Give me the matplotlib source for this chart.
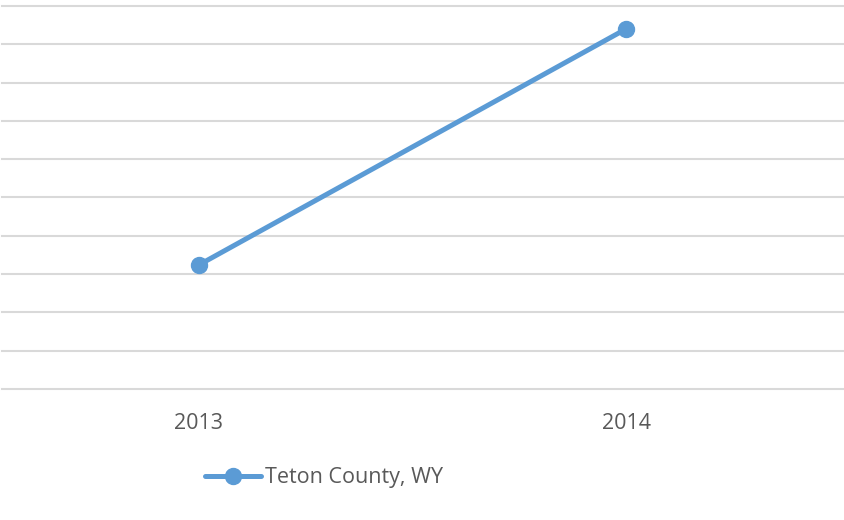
import matplotlib
matplotlib.use("Agg")
import matplotlib.pyplot as plt

# values (no y labels shown, units arbitrary; grid step = 1)
years = ["2013", "2014"]
teton = [3.24, 9.40]
series_name = "Teton County, WY"

blue = "#5B9BD5"
grey_text = "#595959"

plt.rcParams['font.family'] = ['Open Sans', 'DejaVu Sans']

fig = plt.figure(figsize=(8.45, 5.2), dpi=100)
ax = fig.add_axes([2 / 845, 1 - 389 / 520, 841 / 845, (389 - 6) / 520])

x = list(range(len(years)))
ax.plot(x, teton, color=blue, lw=3.6, marker='o', ms=11.5,
        solid_capstyle='round', label=series_name, zorder=3)

ax.set_ylim(0, 10)
ax.set_yticks(range(0, 11))
ax.set_xlim(-0.461, 1.508)
ax.set_xticks(x)
ax.set_xticklabels(years)

ax.yaxis.grid(True, color="#D9D9D9", lw=1.5)
for gl in ax.get_ygridlines():
    gl.set_clip_on(False)
ax.set_axisbelow(True)
for s in ax.spines.values():
    s.set_visible(False)
ax.tick_params(axis='y', left=False, labelleft=False)
ax.tick_params(axis='x', length=0, pad=17, labelsize=15.5, labelcolor=grey_text)

fig.legend(loc='center', bbox_to_anchor=(324 / 845, 1 - 478 / 520),
           frameon=False, fontsize=15.5, labelcolor=grey_text,
           handlelength=2.6, handletextpad=0.15)

fig.savefig("out.png", dpi=100)
